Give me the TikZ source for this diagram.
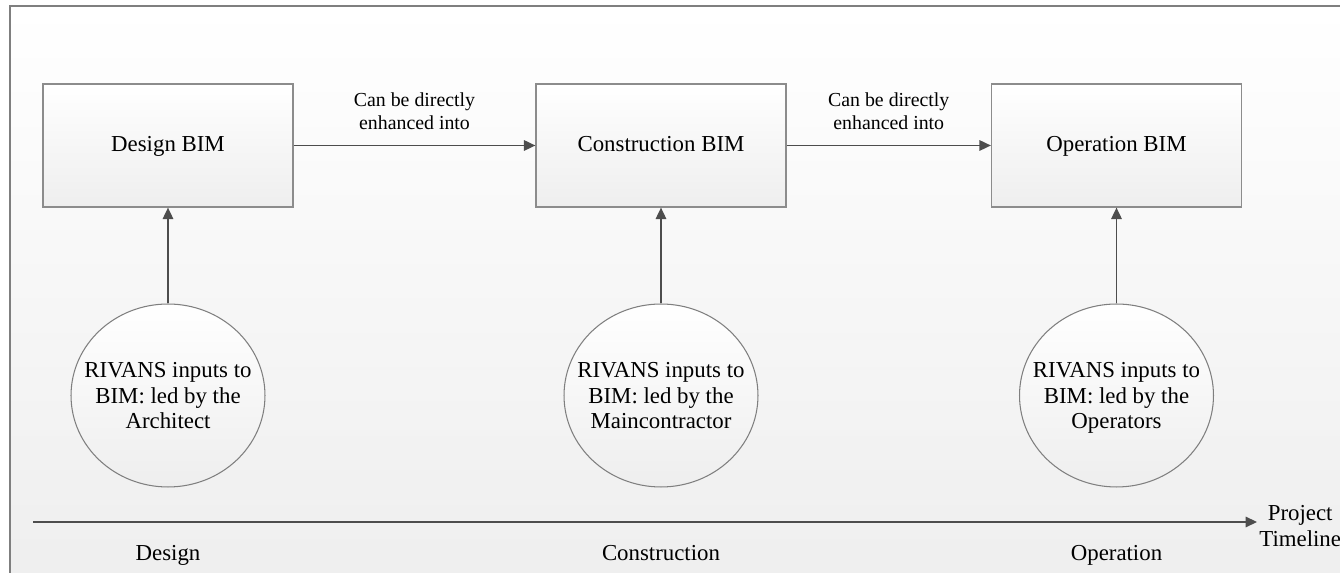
\documentclass[tikz,border=0pt]{standalone}
\usepackage{fontspec}
\setmainfont{Liberation Serif}
\usetikzlibrary{shapes.geometric,arrows.meta}

\definecolor{framegray}{HTML}{7F7F7F}
\definecolor{boxgray}{HTML}{8C8C8C}
\definecolor{arrowgray}{HTML}{4D4D4D}
\definecolor{bggray}{HTML}{EEEEEE}

\tikzset{
  stagebox/.style={draw=boxgray, line width=0.75pt, top color=white, bottom color=bggray,
    minimum width=5cm, minimum height=2.46cm, text height=1.8ex, text depth=0.2ex,
    font=\fontsize{13}{15.6}\selectfont},
  inputs/.style={draw=framegray, ellipse, line width=0.6pt, top color=white, bottom color=bggray,
    minimum width=3.88cm, minimum height=3.66cm, inner xsep=-1cm, align=center, text depth=0pt,
    font=\fontsize{13}{14.3}\selectfont},
  flow/.style={draw=arrowgray, line width=0.85pt, -{Triangle[length=6.5pt,width=6pt]}},
  note/.style={align=center, font=\fontsize{11.3}{13}\selectfont},
  phase/.style={text height=1.6ex, text depth=0.4ex, font=\fontsize{13}{15.6}\selectfont},
}

\begin{document}
\begin{tikzpicture}[x=0.02cm, y=-0.02cm]
\useasboundingbox (0,0) rectangle (1340,573);
\clip (0,0) rectangle (1340,573);
\fill[white] (0,0) rectangle (1340,573);
\path[draw=framegray, line width=0.6pt, top color=white, bottom color=bggray] (10,6) rectangle (1360,590);

% BIM stages
\node[stagebox] (design) at (168,145.5) {Design BIM};
\node[stagebox] (construction) at (661,145.5) {Construction BIM};
\node[stagebox] (operation) at (1116.5,145.5) {Operation BIM};

% RIVANS inputs
\node[inputs] (architect) at (168,395.5) {RIVANS inputs to\\BIM: led by the\\Architect};
\node[inputs] (maincontractor) at (661,395.5) {RIVANS inputs to\\BIM: led by the\\Maincontractor};
\node[inputs] (operators) at (1116.5,395.5) {RIVANS inputs to\\BIM: led by the\\Operators};

\path[flow] (design) -- node[note, above=5.5pt] {Can be directly\\enhanced into} (construction);
\path[flow] (construction) -- node[note, above=5.5pt] {Can be directly\\enhanced into} (operation);
\path[flow] (architect) -- (design);
\path[flow] (maincontractor) -- (construction);
\path[flow] (operators) -- (operation);

% timeline
\coordinate (tlstart) at (33,522);
\coordinate (tlend) at (1257,522);
\node[align=center, anchor=west, inner sep=0pt, font=\fontsize{13}{14.3}\selectfont] (timeline) at (1259,526) {Project\\Timeline};
\path[flow] (tlstart) -- (tlend);
\node[phase] (designphase) at (168,556) {Design};
\node[phase] (constructionphase) at (661,556) {Construction};
\node[phase] (operationphase) at (1116.5,556) {Operation};
\end{tikzpicture}
\end{document}
